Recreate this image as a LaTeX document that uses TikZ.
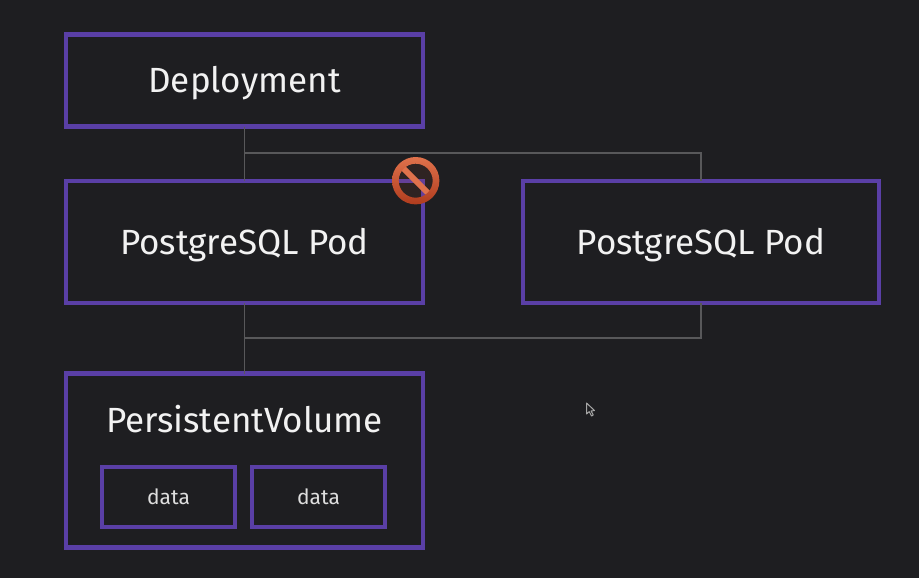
\documentclass[tikz,border=0pt]{standalone}
\usepackage{fontspec}
\usetikzlibrary{calc}
\setmainfont{Fira Sans}
\definecolor{bgdark}{HTML}{1E1E21}
\definecolor{boxpurple}{HTML}{5A3FA6}
\definecolor{wiregray}{HTML}{58585A}
\definecolor{labelwhite}{HTML}{F2F2F2}
\definecolor{datawhite}{HTML}{DEDEDE}
\definecolor{signred}{HTML}{C9502F}
\definecolor{signlight}{HTML}{E0724C}
\definecolor{signdark}{HTML}{B03C1E}
\tikzset{
    bigtext/.style={text=labelwhite, font=\fontsize{35}{40}\selectfont, text height=24pt, text depth=0pt},
    box/.style={draw=boxpurple, line width=4.2pt, outer sep=0pt, bigtext},
    smallbox/.style={draw=boxpurple, line width=4.2pt, outer sep=0pt, text=datawhite, minimum width=133pt, minimum height=60pt, font=\fontsize{21}{25}\selectfont},
    wire/.style={draw=wiregray, line width=1.4pt}
}
\begin{document}
\begin{tikzpicture}[x=1pt, y=-1pt]
    \fill[bgdark] (0,0) rectangle (919,578);
    \useasboundingbox (0,0) rectangle (919,578);

    % Boxes
    \node[box, minimum width=357pt, minimum height=92pt] (deployment) at (244.5,80.5) {Deployment};
    \node[box, minimum width=357pt, minimum height=122pt] (podA) at (244.5,242) {PostgreSQL Pod};
    \node[box, minimum width=356pt, minimum height=122pt] (podB) at (701,242) {PostgreSQL Pod};
    \node[box, minimum width=357pt, minimum height=174pt] (volume) at (244.5,460.5) {};
    \node[bigtext] (volumeLabel) at (244.5,420.5) {PersistentVolume};
    \node[smallbox] (dataA) at (168.5,497) {data};
    \node[smallbox] (dataB) at (318.5,497) {data};

    % Connectors
    \coordinate (topBus) at (244.5,153);
    \coordinate (bottomBus) at (244.5,338);
    \draw[wire] (deployment.south) -- (podA.north);
    \draw[wire] (topBus) -| (podB.north);
    \draw[wire] (podA.south) -- (volume.north);
    \draw[wire] (podB.south) |- (bottomBus);

    % Prohibited sign on the first pod
    \coordinate (noEntry) at (415.7,180.7);
    \fill[signred, opacity=0.1] (noEntry) circle (18pt);
    \draw[signlight, line width=6pt] ($(noEntry)+(-13pt,13pt)$) -- ($(noEntry)+(13pt,-13pt)$);
    \path[even odd rule, top color=signlight, bottom color=signdark] (noEntry) circle (23.7pt) circle (17pt);

    % Mouse pointer
    \coordinate (pointer) at (586.5,403);
    \draw[fill=bgdark, draw=gray!70, line width=1pt, line join=round] (pointer) -- ++(0,11) -- ++(2.7,-2.4) -- ++(2.3,4.4) -- ++(1.8,-1) -- ++(-2.2,-4) -- ++(3.4,-0.5) -- cycle;
\end{tikzpicture}
\end{document}
